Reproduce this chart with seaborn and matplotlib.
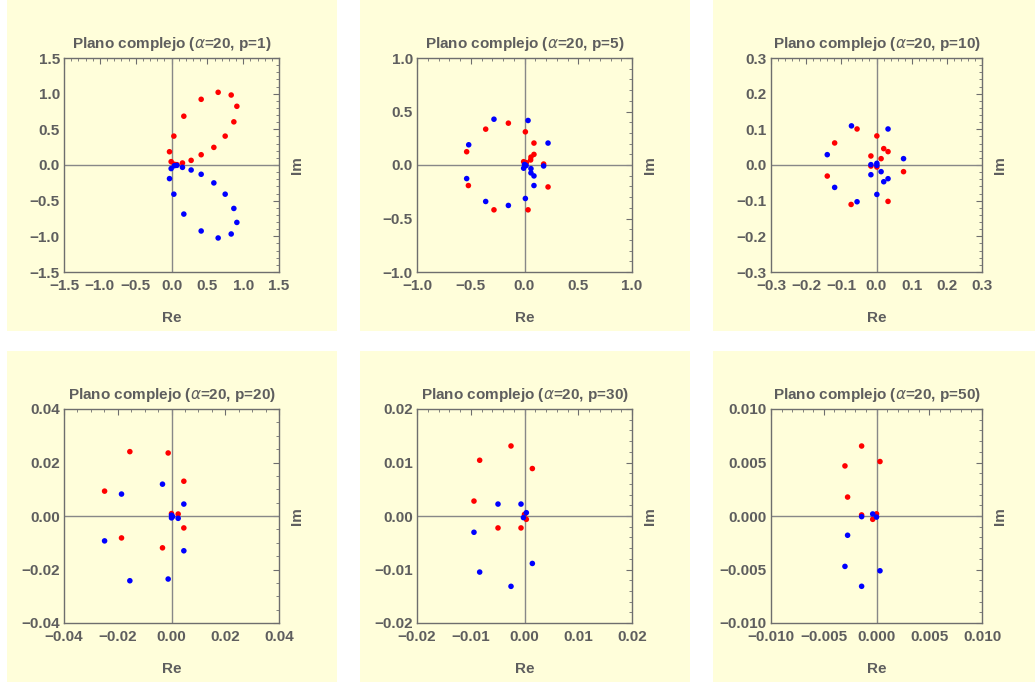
import numpy as np
import pandas as pd
import matplotlib
matplotlib.use("Agg")
import matplotlib.pyplot as plt
import seaborn as sns
from matplotlib.ticker import MultipleLocator, FuncFormatter

sns.set_theme(style="white")
plt.rcParams['font.family'] = ['Liberation Sans', 'DejaVu Sans']

# ---- data ----
p_values = [1, 5, 10, 20, 30, 50]

p1_red_re = [0.651, 0.833, 0.912, 0.414, 0.870, 0.172, 0.749, 0.033, 0.591, -0.028, 0.414, 0.274, 0.153, -0.005, 0.040, 0.075]
p1_red_im = [1.019, 0.981, 0.823, 0.921, 0.605, 0.684, 0.405, 0.405, 0.247, 0.186, 0.144, 0.065, 0.028, 0.047, 0.010, 0.005]
p1_blue_re = [0.651, 0.833, 0.912, 0.414, 0.870, 0.172, 0.749, 0.033, 0.591, -0.028, 0.414, 0.274, 0.153, -0.005, 0.040, 0.075]
p1_blue_im = [-1.023, -0.967, -0.805, -0.925, -0.609, -0.688, -0.409, -0.409, -0.251, -0.191, -0.130, -0.070, -0.033, -0.050, -0.010, -0.005]

p5_red_re = [-0.150, -0.361, 0.008, 0.088, -0.538, 0.088, 0.060, 0.057, -0.008, 0.017, 0.178, -0.522, 0.219, -0.284, 0.033]
p5_red_im = [0.391, 0.335, 0.310, 0.205, 0.124, 0.099, 0.074, 0.047, 0.031, 0.022, 0.009, -0.192, -0.205, -0.419, -0.419]
p5_blue_re = [-0.284, 0.033, -0.519, 0.219, 0.000, 0.015, -0.008, 0.178, 0.060, 0.060, 0.088, 0.088, -0.538, 0.008, -0.361, -0.150]
p5_blue_im = [0.428, 0.416, 0.189, 0.205, 0.005, -0.005, -0.030, -0.009, -0.034, -0.074, -0.102, -0.192, -0.127, -0.313, -0.341, -0.378]

p10_red_re = [-0.0553, 0.001, -0.119, 0.0206, 0.0328, -0.0159, 0.0131, -0.0159, 0.001, -0.140, 0.0769, -0.0722, 0.0328]
p10_red_im = [0.101, 0.0815, 0.0618, 0.0459, 0.0375, 0.0253, 0.0178, -0.003, -0.0056, -0.031, -0.0187, -0.1106, -0.102]
p10_blue_re = [-0.0712, 0.0328, -0.140, 0.0769, -0.0159, 0.001, 0.001, -0.0159, 0.0131, 0.0328, 0.0206, -0.119, 0.001, -0.0553]
p10_blue_im = [0.1097, 0.101, 0.029, 0.0178, 0.001, 0.0047, -0.001, -0.0272, -0.0187, -0.0384, -0.0469, -0.0628, -0.0825, -0.103]

p20_red_re = [-0.0155, -0.00124, 0.00459, -0.0249, 0.0000, 0.00248, 0.00459, -0.0186, -0.00335]
p20_red_im = [0.02406, 0.02356, 0.0130, 0.0093, 0.0009, 0.00074, -0.00446, -0.0082, -0.0119]
p20_blue_re = [-0.00335, -0.0186, 0.00459, 0.0000, 0.0004, 0.00248, 0.0000, -0.0249, 0.00459, -0.0155, -0.00124]
p20_blue_im = [0.0119, 0.0082, 0.00446, 0.0003, -0.0002, -0.00087, -0.0007, -0.0093, -0.0130, -0.0242, -0.02356]

p30_red_re = [-0.00251, -0.00834, 0.00146, -0.0094, 0.0000, -0.00493, -0.00065, 0.00034]
p30_red_im = [0.01309, 0.01042, 0.00887, 0.00279, 0.0003, -0.00223, -0.00223, -0.00062]
p30_blue_re = [-0.00493, -0.00065, 0.00034, -0.0002, -0.0094, 0.00146, -0.00834, -0.00251]
p30_blue_im = [0.00223, 0.00223, 0.00062, -0.0003, -0.00304, -0.00887, -0.01048, -0.01315]

p50_red_re = [-0.00141, -0.00299, 0.00033, -0.00274, -0.00141, -0.00036, 0.0000]
p50_red_im = [0.00654, 0.00468, 0.00509, 0.00177, 0.0001, -0.00031, 0.0002]
p50_blue_re = [-0.00036, 0.0000, -0.00141, -0.00274, -0.00299, 0.00033, -0.00141]
p50_blue_im = [0.00019, -0.0001, -0.00006, -0.0018, -0.00471, -0.00512, -0.00657]

limits = [1.5, 1.0, 0.3, 0.04, 0.02, 0.010]
major_steps = [0.5, 0.5, 0.1, 0.02, 0.01, 0.005]
minor_steps = [0.1, 0.1, 0.02, 0.005, 0.002, 0.001]
decimals = [1, 1, 1, 2, 2, 3]

series = [
    (p1_red_re, p1_red_im, p1_blue_re, p1_blue_im),
    (p5_red_re, p5_red_im, p5_blue_re, p5_blue_im),
    (p10_red_re, p10_red_im, p10_blue_re, p10_blue_im),
    (p20_red_re, p20_red_im, p20_blue_re, p20_blue_im),
    (p30_red_re, p30_red_im, p30_blue_re, p30_blue_im),
    (p50_red_re, p50_red_im, p50_blue_re, p50_blue_im),
]

# ---- styling ----
W, H = 1035, 682
bg = '#FFFEDA'
txt = '#5E5E5E'
frame = '#6E6E6E'

fig = plt.figure(figsize=(W / 100, H / 100), dpi=100)
fig.patch.set_facecolor('white')

panel_cols = [(7, 337), (360, 690), (713, 1035)]
panel_rows = [(0, 331), (351, 682)]
axes_cols = [(64, 279), (417, 632), (771, 982)]
axes_rows = [(58, 272), (409, 623)]

# background panels drawn in an invisible full-figure axes underneath
bgax = fig.add_axes([0, 0, 1, 1], zorder=-10)
bgax.set_xlim(0, W)
bgax.set_ylim(H, 0)
bgax.axis('off')
for i in range(6):
    r, c = divmod(i, 3)
    px0, px1 = panel_cols[c]
    py0, py1 = panel_rows[r]
    bgax.add_patch(plt.Rectangle((px0, py0), px1 - px0, py1 - py0,
                                 facecolor=bg, edgecolor='none'))

for i in range(6):
    r, c = divmod(i, 3)
    x0, x1 = axes_cols[c]
    y0, y1 = axes_rows[r]
    ax = fig.add_axes([x0 / W, 1 - y1 / H, (x1 - x0) / W, (y1 - y0) / H])
    ax.set_facecolor(bg)
    rre, rim, bre, bim = series[i]
    df = pd.DataFrame({
        'Re': list(rre) + list(bre),
        'Im': list(rim) + list(bim),
        'grupo': ['r'] * len(rre) + ['b'] * len(bre),
    })
    ax.axhline(0, color='#888888', lw=1.0, zorder=1)
    ax.axvline(0, color='#888888', lw=1.0, zorder=1)
    sns.scatterplot(data=df, x='Re', y='Im', hue='grupo', palette={'r': '#FF0000', 'b': '#0000FF'},
                    s=16, edgecolor='none', linewidth=0, legend=False, ax=ax, zorder=3)
    L = limits[i]
    ax.set_xlim(-L, L)
    ax.set_ylim(-L, L)
    ax.xaxis.set_major_locator(MultipleLocator(major_steps[i]))
    ax.yaxis.set_major_locator(MultipleLocator(major_steps[i]))
    ax.xaxis.set_minor_locator(MultipleLocator(minor_steps[i]))
    ax.yaxis.set_minor_locator(MultipleLocator(minor_steps[i]))
    d = decimals[i]
    fmt = FuncFormatter(lambda v, pos, d=d: (f"{v:.{d}f}" if abs(v) > 1e-12 else f"{0:.{d}f}").replace('-', '\u2212'))
    ax.xaxis.set_major_formatter(fmt)
    ax.yaxis.set_major_formatter(fmt)
    ax.tick_params(which='both', direction='in', top=True, right=True, color=frame,
                   labelcolor=txt, labelsize=11)
    ax.tick_params(which='major', length=4, width=0.8)
    ax.tick_params(axis='x', which='major', pad=5)
    ax.tick_params(axis='y', which='major', pad=3)
    ax.tick_params(which='minor', length=2, width=0.6)
    for lab in ax.get_xticklabels() + ax.get_yticklabels():
        lab.set_fontweight('bold')
    for sp in ax.spines.values():
        sp.set_color(frame)
        sp.set_linewidth(1.0)
    ax.set_title(f"Plano complejo ($\\alpha$=20, p={p_values[i]})", fontsize=11, fontweight='bold',
                 color=txt, pad=7)
    ax.set_xlabel('Re', fontsize=11, fontweight='bold', color=txt, labelpad=13)
    ax.set_ylabel('Im', fontsize=11, fontweight='bold', color=txt, labelpad=8)
    ax.yaxis.set_label_position('right')

fig.savefig('out.png', dpi=100, facecolor='white')
